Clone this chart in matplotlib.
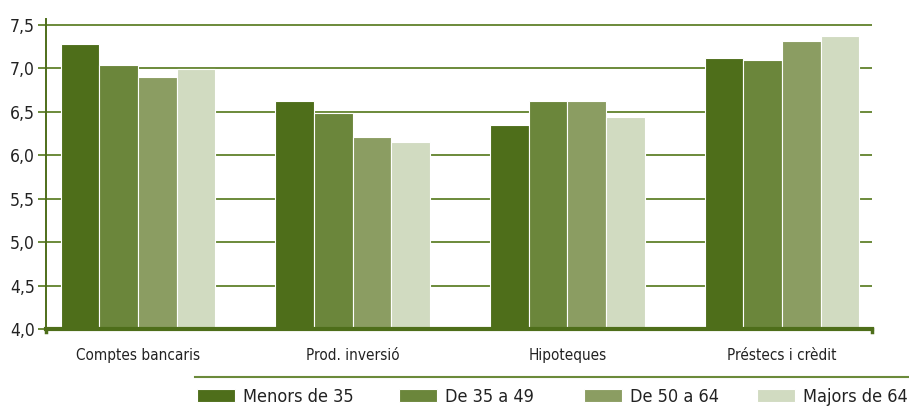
import matplotlib.pyplot as plt
import numpy as np
from matplotlib.lines import Line2D

plt.rcParams['font.family'] = ['DejaVu Sans']
plt.rcParams['font.stretch'] = 'condensed'

categories = ["Comptes bancaris", "Prod. inversió", "Hipoteques", "Préstecs i crèdit"]
series_names = ["Menors de 35", "De 35 a 49", "De 50 a 64", "Majors de 64"]
menors_35 = [7.28, 6.63, 6.35, 7.12]
de_35_49 = [7.04, 6.49, 6.62, 7.10]
de_50_64 = [6.90, 6.21, 6.62, 7.32]
majors_64 = [6.99, 6.15, 6.44, 7.37]
y_ticks = [4.0, 4.5, 5.0, 5.5, 6.0, 6.5, 7.0, 7.5]

colors = ["#4e6e1a", "#6b863b", "#8b9d62", "#d1dbc1"]
grid_color = "#6b8a3a"
axis_color = "#4e6e1a"

fig = plt.figure(figsize=(9.09, 4.08), dpi=100)
ax = fig.add_axes([46 / 909, 1 - 329 / 408, 826 / 909, 310 / 408])

x = np.arange(len(categories))
w = 0.18
all_series = [menors_35, de_35_49, de_50_64, majors_64]
bars = []
for i, (vals, name) in enumerate(zip(all_series, series_names)):
    b = ax.bar(x + (i - 1.5) * w, vals, width=w, color=colors[i], label=name,
               edgecolor="white", linewidth=0.8, zorder=3)
    bars.append(b)

ax.set_xlim(-0.428, 3.419)
ax.set_ylim(4.0, 7.57)
ax.set_yticks(y_ticks)
ax.set_yticklabels([f"{t:.1f}".replace(".", ",") for t in y_ticks], fontsize=12.5, color="#222222")
ax.yaxis.grid(True, color=grid_color, linewidth=1.4, zorder=0)
ax.tick_params(axis="y", length=6, width=1.4, color=grid_color, pad=2)

ax.set_xticks(x)
ax.set_xticklabels(categories, fontsize=11, color="#222222")
ax.tick_params(axis="x", length=0, pad=14)

for s in ["top", "right"]:
    ax.spines[s].set_visible(False)
ax.spines["left"].set_color(axis_color)
ax.spines["left"].set_linewidth(1.4)
ax.spines["bottom"].set_color(axis_color)
ax.spines["bottom"].set_linewidth(3)
ax.spines["bottom"].set_zorder(5)

# small end ticks on the bottom axis
for xe in [-0.428, 3.419]:
    ax.plot([xe, xe], [4.0, 3.97], color=axis_color, lw=2.5, clip_on=False, zorder=4)

# line above the legend
fig.add_artist(Line2D([195 / 909, 1.0], [1 - 377 / 408, 1 - 377 / 408],
                      color="#6b8a3a", linewidth=1.5))

# legend entries placed one by one, like the original
legend_x = [197, 399, 584, 757]
for b, name, lx in zip(bars, series_names, legend_x):
    leg = fig.legend([b], [name], loc="center left",
                     bbox_to_anchor=(lx / 909, 1 - 397 / 408),
                     frameon=False, fontsize=13, handlelength=2.1, handleheight=0.7,
                     handletextpad=0.45, borderaxespad=0, borderpad=0)
    for t in leg.get_texts():
        t.set_color("#222222")

fig.savefig("out.png", dpi=100)
